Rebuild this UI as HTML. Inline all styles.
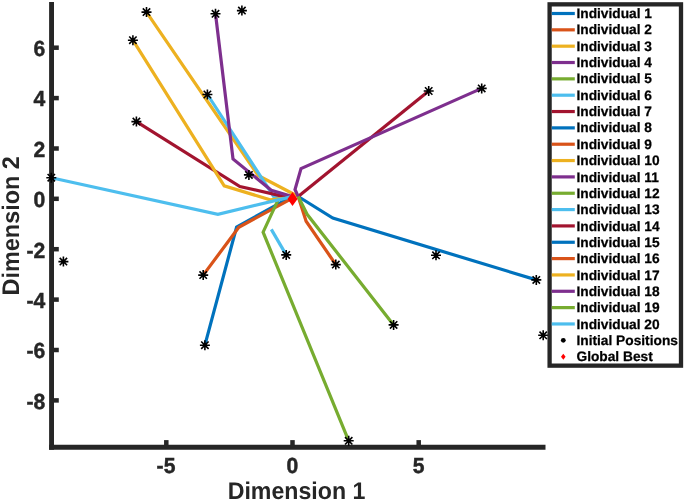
<!DOCTYPE html>
<html><head><meta charset="utf-8"><title>Plot</title>
<style>
html,body{margin:0;padding:0;background:#fff;}
svg{display:block;}
text{font-family:"Liberation Sans",Arial,Helvetica,sans-serif;font-weight:bold;text-rendering:geometricPrecision;}
.tk{font-size:21.8px;fill:#262626;stroke:#262626;stroke-width:0.45px;}
.lb{font-size:24.0px;fill:#262626;}
.lg{font-size:13.7px;fill:#000;stroke:#000;stroke-width:0.25px;}
</style></head><body>
<svg width="685" height="502" viewBox="0 0 685 502">
<rect x="0" y="0" width="685" height="502" fill="#fff"/>
<g fill="none" stroke-width="3.2" stroke-linejoin="miter" stroke-linecap="butt">
<polyline stroke="#0072BD" points="204.9,345.2 236.6,227.0 293.0,195.8"/>
<polyline stroke="#D95319" points="203.2,275.1 238.8,227.3 293.0,197.8"/>
<polyline stroke="#EDB120" points="146.5,12.1 258.1,175.5 298.2,196.5"/>
<polyline stroke="#77AC30" points="348.7,440.8 263.1,232.2 278.1,199.8"/>
<polyline stroke="#4DBEEE" points="207.4,94.5 273.6,196.4 292.0,197.3"/>
<polyline stroke="#A2142F" points="136.4,121.6 239.9,186.5 292.0,198.4"/>
<polyline stroke="#0072BD" points="536.3,279.9 332.8,218.1 298.2,196.5"/>
<polyline stroke="#D95319" points="335.8,264.6 306.1,221.2 298.2,196.5"/>
<polyline stroke="#EDB120" points="132.9,40.2 224.2,185.8 270.2,199.9 284.0,198.4"/>
<polyline stroke="#7E2F8E" points="215.5,13.8 233.0,158.9 271.3,190.2 293.0,196.9"/>
<polyline stroke="#4DBEEE" points="51.3,177.7 217.9,214.3 293.0,196.4"/>
<polyline stroke="#A2142F" points="428.7,91.0 298.2,196.5"/>
<polyline stroke="#7E2F8E" points="481.7,88.4 301.0,168.6 295.0,189.5 298.2,196.5"/>
<polyline stroke="#77AC30" points="393.6,324.9 307.1,214.3 298.2,196.5"/>
<polyline stroke="#4DBEEE" points="286.2,254.9 271.3,229.4"/>
</g>
<g stroke="#262626" stroke-width="4.9" fill="none" stroke-linecap="butt">
<path d="M51.55 2.1V449.65"/>
<path d="M49.10 447.2H545.5"/>
<path stroke-width="4.5" d="M51.5 47.7H58.8"/>
<path stroke-width="4.5" d="M51.5 98.1H58.8"/>
<path stroke-width="4.5" d="M51.5 148.5H58.8"/>
<path stroke-width="4.5" d="M51.5 198.8H58.8"/>
<path stroke-width="4.5" d="M51.5 249.2H58.8"/>
<path stroke-width="4.5" d="M51.5 299.6H58.8"/>
<path stroke-width="4.5" d="M51.5 350.0H58.8"/>
<path stroke-width="4.5" d="M51.5 400.4H58.8"/>
<path stroke-width="4.5" d="M166.3 447.2V440.1"/>
<path stroke-width="4.5" d="M292.5 447.2V440.1"/>
<path stroke-width="4.5" d="M418.7 447.2V440.1"/>
</g>
<g stroke="#000" stroke-width="1.6" fill="none">
<path d="M141.5 12.1H151.5M146.5 7.1V17.1M142.8 8.4L150.2 15.8M142.8 15.8L150.2 8.4"/>
<path d="M210.5 13.8H220.5M215.5 8.8V18.8M211.8 10.1L219.2 17.5M211.8 17.5L219.2 10.1"/>
<path d="M236.9 10.6H246.9M241.9 5.6V15.6M238.2 6.9L245.6 14.3M238.2 14.3L245.6 6.9"/>
<path d="M127.9 40.2H137.9M132.9 35.2V45.2M129.2 36.5L136.6 43.9M129.2 43.9L136.6 36.5"/>
<path d="M202.4 94.5H212.4M207.4 89.5V99.5M203.7 90.8L211.1 98.2M203.7 98.2L211.1 90.8"/>
<path d="M131.4 121.6H141.4M136.4 116.6V126.6M132.7 117.9L140.1 125.3M132.7 125.3L140.1 117.9"/>
<path d="M243.9 174.9H253.9M248.9 169.9V179.9M245.2 171.2L252.6 178.6M245.2 178.6L252.6 171.2"/>
<path d="M46.3 177.7H56.3M51.3 172.7V182.7M47.6 174.0L55.0 181.4M47.6 181.4L55.0 174.0"/>
<path d="M58.4 261.6H68.4M63.4 256.6V266.6M59.7 257.9L67.1 265.3M59.7 265.3L67.1 257.9"/>
<path d="M198.2 275.1H208.2M203.2 270.1V280.1M199.5 271.4L206.9 278.8M199.5 278.8L206.9 271.4"/>
<path d="M199.9 345.2H209.9M204.9 340.2V350.2M201.2 341.5L208.6 348.9M201.2 348.9L208.6 341.5"/>
<path d="M281.2 254.9H291.2M286.2 249.9V259.9M282.5 251.2L289.9 258.6M282.5 258.6L289.9 251.2"/>
<path d="M330.8 264.6H340.8M335.8 259.6V269.6M332.1 260.9L339.5 268.3M332.1 268.3L339.5 260.9"/>
<path d="M388.6 324.9H398.6M393.6 319.9V329.9M389.9 321.2L397.3 328.6M389.9 328.6L397.3 321.2"/>
<path d="M343.7 440.8H353.7M348.7 435.8V445.8M345.0 437.1L352.4 444.5M345.0 444.5L352.4 437.1"/>
<path d="M423.7 91.0H433.7M428.7 86.0V96.0M425.0 87.3L432.4 94.7M425.0 94.7L432.4 87.3"/>
<path d="M476.7 88.4H486.7M481.7 83.4V93.4M478.0 84.7L485.4 92.1M478.0 92.1L485.4 84.7"/>
<path d="M431.0 255.3H441.0M436.0 250.3V260.3M432.3 251.6L439.7 259.0M432.3 259.0L439.7 251.6"/>
<path d="M531.3 279.9H541.3M536.3 274.9V284.9M532.6 276.2L540.0 283.6M532.6 283.6L540.0 276.2"/>
<path d="M538.2 335.3H548.2M543.2 330.3V340.3M539.5 331.6L546.9 339.0M539.5 339.0L546.9 331.6"/>
</g>
<g fill="#000">
<circle cx="146.5" cy="12.1" r="1.9"/>
<circle cx="215.5" cy="13.8" r="1.9"/>
<circle cx="241.9" cy="10.6" r="1.9"/>
<circle cx="132.9" cy="40.2" r="1.9"/>
<circle cx="207.4" cy="94.5" r="1.9"/>
<circle cx="136.4" cy="121.6" r="1.9"/>
<circle cx="248.9" cy="174.9" r="1.9"/>
<circle cx="51.3" cy="177.7" r="1.9"/>
<circle cx="63.4" cy="261.6" r="1.9"/>
<circle cx="203.2" cy="275.1" r="1.9"/>
<circle cx="204.9" cy="345.2" r="1.9"/>
<circle cx="286.2" cy="254.9" r="1.9"/>
<circle cx="335.8" cy="264.6" r="1.9"/>
<circle cx="393.6" cy="324.9" r="1.9"/>
<circle cx="348.7" cy="440.8" r="1.9"/>
<circle cx="428.7" cy="91.0" r="1.9"/>
<circle cx="481.7" cy="88.4" r="1.9"/>
<circle cx="436.0" cy="255.3" r="1.9"/>
<circle cx="536.3" cy="279.9" r="1.9"/>
<circle cx="543.2" cy="335.3" r="1.9"/>
</g>
<polygon fill="#f00" points="292.5,192.1 297.5,199.1 292.5,206.1 287.5,199.1"/>
<text class="tk" transform="translate(45.3,56.0) scale(0.97,1)" text-anchor="end">6</text>
<text class="tk" transform="translate(45.3,106.4) scale(0.97,1)" text-anchor="end">4</text>
<text class="tk" transform="translate(45.3,156.8) scale(0.97,1)" text-anchor="end">2</text>
<text class="tk" transform="translate(45.3,207.2) scale(0.97,1)" text-anchor="end">0</text>
<text class="tk" transform="translate(45.3,257.5) scale(0.97,1)" text-anchor="end">-2</text>
<text class="tk" transform="translate(45.3,307.9) scale(0.97,1)" text-anchor="end">-4</text>
<text class="tk" transform="translate(45.3,358.3) scale(0.97,1)" text-anchor="end">-6</text>
<text class="tk" transform="translate(45.3,408.7) scale(0.97,1)" text-anchor="end">-8</text>
<text class="tk" transform="translate(166.0,472.9) scale(0.97,1)" text-anchor="middle">-5</text>
<text class="tk" transform="translate(292.4,472.9) scale(0.97,1)" text-anchor="middle">0</text>
<text class="tk" transform="translate(418.6,472.9) scale(0.97,1)" text-anchor="middle">5</text>
<text class="lb" transform="translate(296.5,499.0) scale(0.965,1)" text-anchor="middle">Dimension 1</text>
<text class="lb" transform="translate(19.2,225.8) rotate(-90) scale(0.976,1)" text-anchor="middle">Dimension 2</text>
<rect x="549.6" y="4.35" width="131.4" height="361.3" fill="#fff" stroke="#262626" stroke-width="4.3"/>
<path d="M551.8 13.50H574.8" stroke="#0072BD" stroke-width="3.2" fill="none"/>
<text class="lg" transform="translate(576.45,18.10) scale(1.003,1)">Individual 1</text>
<path d="M551.8 29.84H574.8" stroke="#D95319" stroke-width="3.2" fill="none"/>
<text class="lg" transform="translate(576.45,34.44) scale(1.003,1)">Individual 2</text>
<path d="M551.8 46.18H574.8" stroke="#EDB120" stroke-width="3.2" fill="none"/>
<text class="lg" transform="translate(576.45,50.78) scale(1.003,1)">Individual 3</text>
<path d="M551.8 62.52H574.8" stroke="#7E2F8E" stroke-width="3.2" fill="none"/>
<text class="lg" transform="translate(576.45,67.12) scale(1.003,1)">Individual 4</text>
<path d="M551.8 78.86H574.8" stroke="#77AC30" stroke-width="3.2" fill="none"/>
<text class="lg" transform="translate(576.45,83.46) scale(1.003,1)">Individual 5</text>
<path d="M551.8 95.20H574.8" stroke="#4DBEEE" stroke-width="3.2" fill="none"/>
<text class="lg" transform="translate(576.45,99.80) scale(1.003,1)">Individual 6</text>
<path d="M551.8 111.54H574.8" stroke="#A2142F" stroke-width="3.2" fill="none"/>
<text class="lg" transform="translate(576.45,116.14) scale(1.003,1)">Individual 7</text>
<path d="M551.8 127.88H574.8" stroke="#0072BD" stroke-width="3.2" fill="none"/>
<text class="lg" transform="translate(576.45,132.48) scale(1.003,1)">Individual 8</text>
<path d="M551.8 144.22H574.8" stroke="#D95319" stroke-width="3.2" fill="none"/>
<text class="lg" transform="translate(576.45,148.82) scale(1.003,1)">Individual 9</text>
<path d="M551.8 160.56H574.8" stroke="#EDB120" stroke-width="3.2" fill="none"/>
<text class="lg" transform="translate(576.45,165.16) scale(1.003,1)">Individual 10</text>
<path d="M551.8 176.90H574.8" stroke="#7E2F8E" stroke-width="3.2" fill="none"/>
<text class="lg" transform="translate(576.45,181.50) scale(1.003,1)">Individual 11</text>
<path d="M551.8 193.24H574.8" stroke="#77AC30" stroke-width="3.2" fill="none"/>
<text class="lg" transform="translate(576.45,197.84) scale(1.003,1)">Individual 12</text>
<path d="M551.8 209.58H574.8" stroke="#4DBEEE" stroke-width="3.2" fill="none"/>
<text class="lg" transform="translate(576.45,214.18) scale(1.003,1)">Individual 13</text>
<path d="M551.8 225.92H574.8" stroke="#A2142F" stroke-width="3.2" fill="none"/>
<text class="lg" transform="translate(576.45,230.52) scale(1.003,1)">Individual 14</text>
<path d="M551.8 242.26H574.8" stroke="#0072BD" stroke-width="3.2" fill="none"/>
<text class="lg" transform="translate(576.45,246.86) scale(1.003,1)">Individual 15</text>
<path d="M551.8 258.60H574.8" stroke="#D95319" stroke-width="3.2" fill="none"/>
<text class="lg" transform="translate(576.45,263.20) scale(1.003,1)">Individual 16</text>
<path d="M551.8 274.94H574.8" stroke="#EDB120" stroke-width="3.2" fill="none"/>
<text class="lg" transform="translate(576.45,279.54) scale(1.003,1)">Individual 17</text>
<path d="M551.8 291.28H574.8" stroke="#7E2F8E" stroke-width="3.2" fill="none"/>
<text class="lg" transform="translate(576.45,295.88) scale(1.003,1)">Individual 18</text>
<path d="M551.8 307.62H574.8" stroke="#77AC30" stroke-width="3.2" fill="none"/>
<text class="lg" transform="translate(576.45,312.22) scale(1.003,1)">Individual 19</text>
<path d="M551.8 323.96H574.8" stroke="#4DBEEE" stroke-width="3.2" fill="none"/>
<text class="lg" transform="translate(576.45,328.56) scale(1.003,1)">Individual 20</text>
<circle cx="563.3" cy="340.30" r="2.4" fill="#000"/>
<text class="lg" transform="translate(576.45,344.90) scale(1.003,1)">Initial Positions</text>
<polygon fill="#f00" points="563.3,353.64 565.6,356.64 563.3,359.64 561.0,356.64"/>
<text class="lg" transform="translate(576.45,361.24) scale(1.003,1)">Global Best</text>
</svg>
</body></html>
